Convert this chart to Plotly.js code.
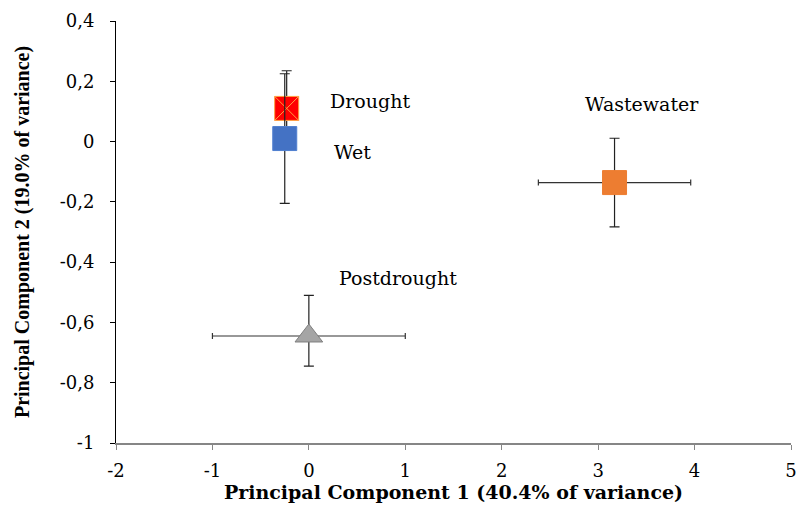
<!DOCTYPE html>
<html><head><meta charset="utf-8">
<script src="https://cdn.plot.ly/plotly-3.0.1.min.js"></script>
<style>html,body{margin:0;padding:0;background:#fff}#chart{width:798px;height:506px}</style>
</head><body><div id="chart"></div>
<script>
const groups = ["Drought", "Wet", "Wastewater", "Postdrought"];
const pc1 = [-0.23, -0.25, 3.17, 0.0];
const pc2 = [0.11, 0.01, -0.136, -0.645];
const pc1Err = [0, 0, 0.79, 1.0];
const pc2ErrPlus = [0.125, 0.215, 0.147, 0.135];
const pc2ErrMinus = [0.125, 0.215, 0.147, 0.1];
const fills = ["#FF0000", "#4472C4", "#ED7D31", "#A5A5A5"];
const symbols = ["square-x", "square", "square", "triangle-up"];
const outlines = ["#FFA040", "#4F7FCF", "#ED7D31", "#7F7F7F"];
const xTicks = [-2, -1, 0, 1, 2, 3, 4, 5];
const yTicks = [0.4, 0.2, 0, -0.2, -0.4, -0.6, -0.8, -1];
const yTickText = ["0,4", "0,2", "0", "-0,2", "-0,4", "-0,6", "-0,8", "-1"];

const traces = groups.map((g, i) => ({
  type: "scatter", mode: "markers", name: g,
  x: [pc1[i]], y: [pc2[i]],
  marker: {symbol: symbols[i], size: 24, color: fills[i], line: {color: outlines[i], width: 1}},
  error_x: {type: "data", symmetric: true, array: [pc1Err[i]], visible: pc1Err[i] > 0, color: "#333", thickness: 1.2, width: 3},
  error_y: {type: "data", symmetric: false, array: [pc2ErrPlus[i]], arrayminus: [pc2ErrMinus[i]], color: "#222", thickness: 1.2, width: 5},
  showlegend: false
}));

const wide = "'DejaVu Serif', serif";
const times = "'Liberation Serif', serif";
const annPos = [[0.20, 0.135], [0.24, -0.035], [2.84, 0.125], [0.29, -0.453]];
const annotations = groups.map((g, i) => ({
  x: annPos[i][0], y: annPos[i][1], xref: "x", yref: "y", text: g, showarrow: false,
  xanchor: "left", yanchor: "middle", font: {family: wide, size: 19, color: "#000"}
}));

const layout = {
  width: 798, height: 506,
  margin: {l: 116, r: 7, t: 21, b: 63},
  paper_bgcolor: "#fff", plot_bgcolor: "#fff",
  font: {family: wide, color: "#000"},
  xaxis: {
    range: [-2, 5], tickvals: xTicks, ticktext: xTicks.map(String),
    showgrid: false, zeroline: false, showline: true, linecolor: "#868686", linewidth: 1.5,
    ticks: "outside", ticklen: 5, tickcolor: "#868686", ticklabelstandoff: 6,
    tickfont: {family: wide, size: 18, color: "#000"},
    title: {text: "<b>Principal Component 1 (40.4% of variance)</b>", font: {family: wide, size: 19, color: "#000"}, standoff: 3}
  },
  yaxis: {
    range: [-1, 0.4], tickvals: yTicks, ticktext: yTickText,
    showgrid: false, zeroline: false, showline: true, linecolor: "#000", linewidth: 1,
    ticks: "outside", ticklen: 5, tickcolor: "#000", ticklabelstandoff: 12,
    tickfont: {family: wide, size: 18, color: "#000"},
    title: {text: "<b>Principal Component 2 (19.0% of variance)</b>", font: {family: times, size: 20, color: "#000"}, standoff: 24}
  },
  annotations: annotations
};
Plotly.newPlot("chart", traces, layout, {displayModeBar: false, staticPlot: true});
</script></body></html>
